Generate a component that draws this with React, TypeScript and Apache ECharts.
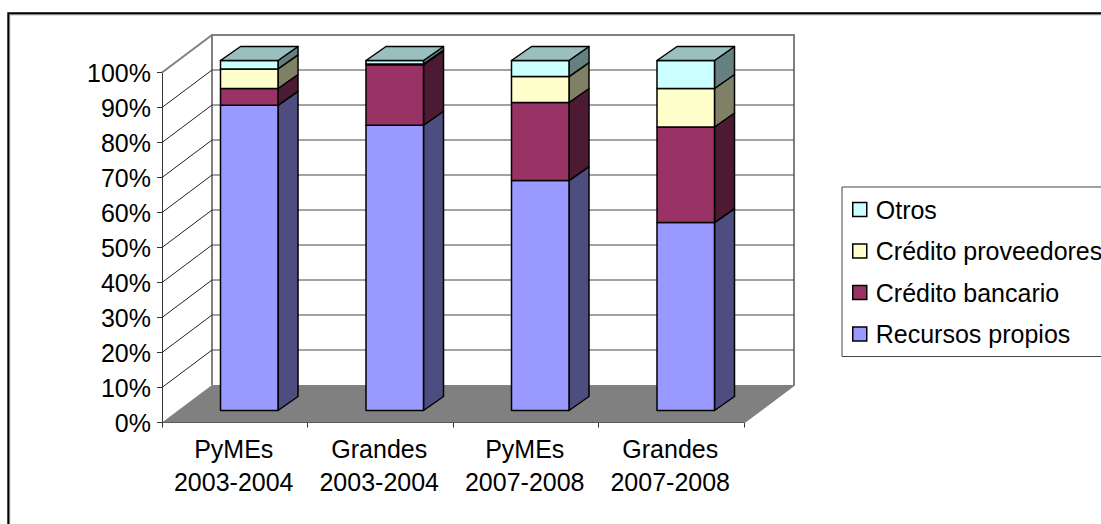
import React, { useEffect, useRef } from "react";
import * as echarts from "echarts";

const categories = ["PyMEs\n2003-2004", "Grandes\n2003-2004", "PyMEs\n2007-2008", "Grandes\n2007-2008"];
const recursosPropios = [87.2, 81.5, 65.7, 53.7];
const creditoBancario = [4.8, 17.3, 22.3, 27.3];
const creditoProveedores = [5.6, 0.2, 7.4, 11];
const otros = [2.4, 1, 4.6, 8];
const seriesNames = ["Recursos propios", "Crédito bancario", "Crédito proveedores", "Otros"];
const seriesValues = [recursosPropios, creditoBancario, creditoProveedores, otros];
const frontColors = ["#9999FF", "#993366", "#FFFFCC", "#CCFFFF"];
const sideColors = ["#4D4D80", "#4D1A33", "#808066", "#668080"];
const topColors = ["#7373BF", "#73264D", "#BFBF99", "#99BFBF"];
const yTicks = [0, 10, 20, 30, 40, 50, 60, 70, 80, 90, 100];

const FONT = "'Liberation Sans', Arial, sans-serif";
const GRID = { left: 162, top: 72.5, width: 582, height: 350 };
const WALL_DX = 50;
const WALL_DY = -37.5;
const BAR_DX = 14.5;
const BAR_DY = -12;
const BAR_W = 57.5;
const DEPTH_DX = 20;
const DEPTH_DY = -14;
const EDGE = { stroke: "#000", lineWidth: 1.5, lineJoin: "round" };

export default function App() {
  const ref = useRef<HTMLDivElement>(null);
  useEffect(() => {
    document.body.style.margin = "0";
    const chart = echarts.init(ref.current!, undefined, { renderer: "svg" });

    const wallItem = (params: any, api: any) => {
      const cs = params.coordSys;
      const v = api.value(0);
      const y = api.coord([0, v])[1];
      const x0 = cs.x;
      const x1 = cs.x + WALL_DX;
      const x2 = cs.x + cs.width + WALL_DX;
      const yb = y + WALL_DY;
      const color = v === 100 ? "#808080" : "#222";
      const back = v === 100 ? "#808080" : "#444";
      const width = v === 100 ? 2 : 1;
      const children: any[] = [];
      if (v > 0) {
        children.push({ type: "line", shape: { x1: x0, y1: y, x2: x1, y2: yb }, style: { stroke: color, lineWidth: width } });
        children.push({ type: "line", shape: { x1, y1: yb, x2, y2: yb }, style: { stroke: back, lineWidth: width } });
      } else {
        children.push({
          type: "polygon",
          shape: { points: [[x0, y], [x1, yb], [x2, yb], [x0 + cs.width, y]] },
          style: { fill: "#808080" },
        });
        const top = api.coord([0, 100])[1] + WALL_DY;
        children.push({
          type: "polyline",
          shape: { points: [[x1, yb], [x1, top], [x2, top], [x2, yb], [x0 + cs.width, y]] },
          style: { fill: "none", stroke: "#808080", lineWidth: 2 },
        });
      }
      return { type: "group", children };
    };

    const barSeries = seriesNames.map((name, s) => ({
      name,
      type: "custom",
      z: 5,
      clip: false,
      itemStyle: { color: frontColors[s], borderColor: "#000", borderWidth: 1 },
      data: categories.map((_, c) => {
        let base = 0;
        for (let k = 0; k < s; k++) base += seriesValues[k][c];
        return [c, base, base + seriesValues[s][c]];
      }),
      renderItem: (_: any, api: any) => {
        const c = api.value(0);
        const center = api.coord([c, 0])[0];
        const yA = api.coord([c, api.value(1)])[1] + BAR_DY;
        const yB = api.coord([c, api.value(2)])[1] + BAR_DY;
        const xL = center + BAR_DX - BAR_W / 2;
        const xR = xL + BAR_W;
        const children: any[] = [
          {
            type: "polygon",
            shape: { points: [[xR, yA], [xR + DEPTH_DX, yA + DEPTH_DY], [xR + DEPTH_DX, yB + DEPTH_DY], [xR, yB]] },
            style: { fill: sideColors[s], ...EDGE },
          },
          {
            type: "rect",
            shape: { x: xL, y: yB, width: BAR_W, height: yA - yB },
            style: { fill: frontColors[s], ...EDGE },
          },
        ];
        if (s === seriesNames.length - 1) {
          children.push({
            type: "polygon",
            shape: { points: [[xL, yB], [xL + DEPTH_DX, yB + DEPTH_DY], [xR + DEPTH_DX, yB + DEPTH_DY], [xR, yB]] },
            style: { fill: topColors[s], ...EDGE },
          });
        }
        return { type: "group", children };
      },
    }));

    chart.setOption({
      animation: false,
      backgroundColor: "#fff",
      textStyle: { fontFamily: FONT },
      grid: { ...GRID, containLabel: false },
      xAxis: {
        type: "category",
        data: categories,
        boundaryGap: true,
        axisLine: { show: true, lineStyle: { color: "#333", width: 1 } },
        axisTick: { show: true, length: 5, lineStyle: { color: "#333" } },
        axisLabel: { color: "#000", fontSize: 25, fontFamily: FONT, lineHeight: 33, margin: 10, interval: 0, padding: [0, 2, 0, 0] },
      },
      yAxis: {
        type: "value",
        min: 0,
        max: 100,
        interval: 10,
        splitLine: { show: false },
        axisLine: { show: true, lineStyle: { color: "#333", width: 1 } },
        axisTick: { show: true, length: 5, lineStyle: { color: "#333" } },
        axisLabel: { color: "#000", fontSize: 25, fontFamily: FONT, margin: 11, formatter: "{value}%" },
      },
      legend: {
        show: true,
        orient: "vertical",
        left: 842,
        top: 187,
        padding: [10, 10, 10, 10],
        itemGap: 16.5,
        itemWidth: 14,
        itemHeight: 14,
        backgroundColor: "#fff",
        borderColor: "#444",
        borderWidth: 1,
        borderRadius: 0,
        icon: "rect",
        selectedMode: false,
        textStyle: { color: "#000", fontSize: 25, fontFamily: FONT, padding: [0, 0, 4, 4] },
        data: [...seriesNames].reverse().map((name) => ({
          name,
          itemStyle: { color: frontColors[seriesNames.indexOf(name)], borderColor: "#000", borderWidth: 1.5 },
        })),
      },
      series: [
        {
          type: "custom",
          name: "_walls",
          z: 1,
          clip: false,
          silent: true,
          data: yTicks.map((v) => [v]),
          encode: { y: 0 },
          renderItem: wallItem,
        },
        ...barSeries,
      ],
      graphic: [
        {
          type: "polyline",
          z: 100,
          silent: true,
          shape: { points: [[9.7, 524], [9.7, 14.8], [1101, 14.8]] },
          style: { fill: "none", stroke: "#999", lineWidth: 1 },
        },
        {
          type: "polyline",
          z: 101,
          silent: true,
          shape: { points: [[8.3, 524], [8.3, 13.3], [1101, 13.3]] },
          style: { fill: "none", stroke: "#000", lineWidth: 2 },
        },
      ],
    });
    return () => chart.dispose();
  }, []);
  return <div ref={ref} style={{ position: "absolute", left: 0, top: 0, width: 1101, height: 524 }} />;
}
